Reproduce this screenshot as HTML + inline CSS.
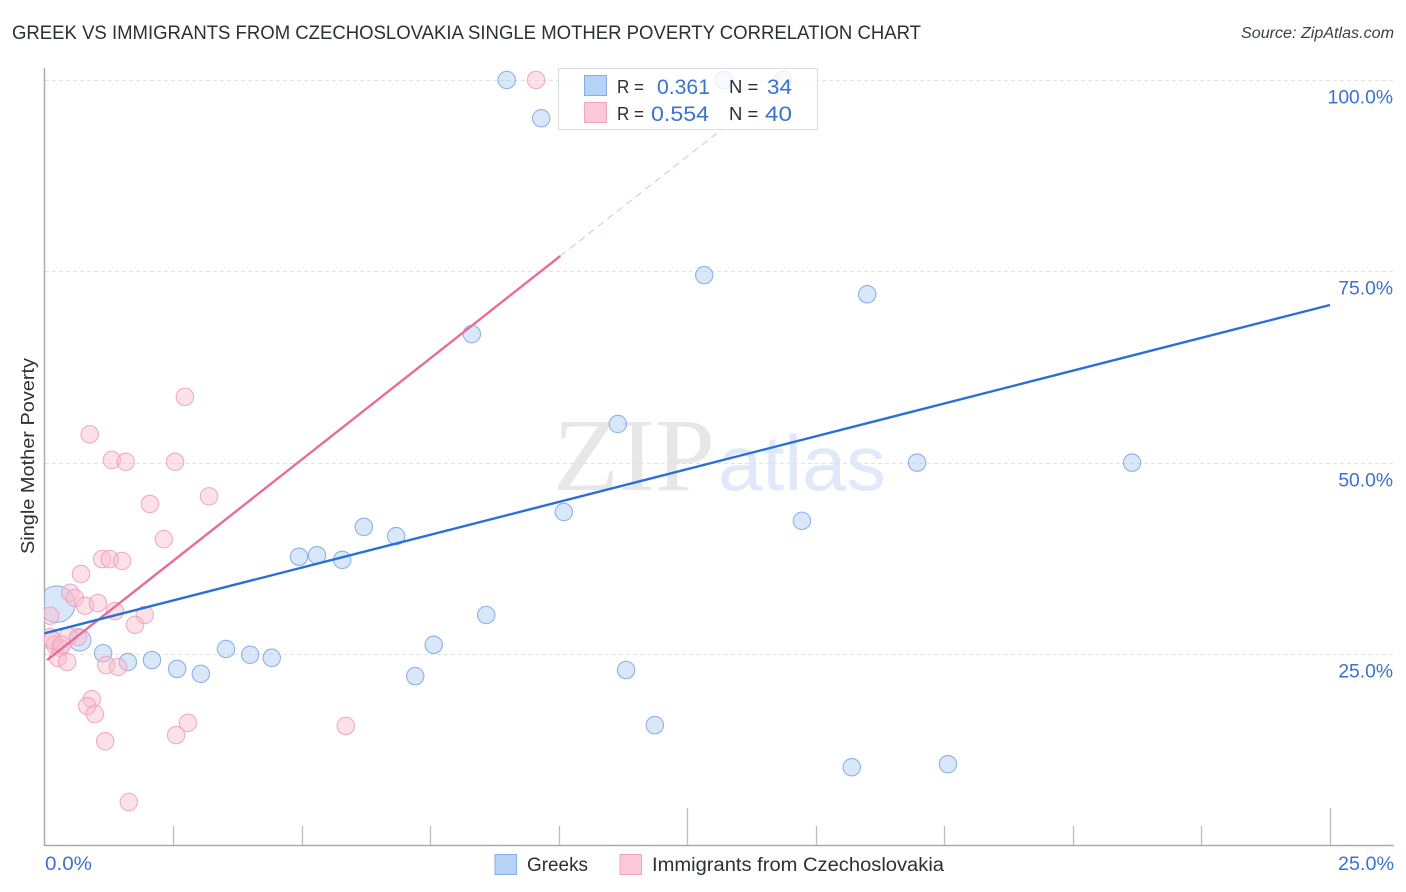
<!DOCTYPE html>
<html>
<head>
<meta charset="utf-8">
<title>Greek vs Immigrants from Czechoslovakia Single Mother Poverty Correlation Chart</title>
<style>
html,body{margin:0;padding:0;background:#fff;}
svg{display:block;font-family:"Liberation Sans",sans-serif;}
</style>
</head>
<body>
<svg id="chart" width="1406" height="892" viewBox="0 0 1406 892" xmlns="http://www.w3.org/2000/svg">
  <defs>
    <clipPath id="plot-clip"><rect x="44" y="60" width="1350" height="785"></rect></clipPath>
  </defs>
  <rect x="0" y="0" width="1406" height="892" fill="#fff"></rect>
  <text x="12" y="39" font-size="19.5" fill="#2c2f36" textLength="909" lengthAdjust="spacingAndGlyphs">GREEK VS IMMIGRANTS FROM CZECHOSLOVAKIA SINGLE MOTHER POVERTY CORRELATION CHART</text>
  <text x="1241" y="38" font-size="15.5" font-style="italic" fill="#3c4048" textLength="153" lengthAdjust="spacingAndGlyphs">Source: ZipAtlas.com</text>
  <text x="553" y="490" font-family="'Liberation Serif',serif" font-size="104" fill="#e7e7e7" textLength="162" lengthAdjust="spacingAndGlyphs">ZIP</text>
  <text x="718" y="490" font-family="'Liberation Sans',sans-serif" font-size="78" fill="#dfe9f9" textLength="168" lengthAdjust="spacingAndGlyphs">atlas</text>
  <g id="grid"></g>
  <g id="axes"></g>
  <g id="pts" clip-path="url(#plot-clip)"></g>
  <g id="trends"></g>
  <g id="ylabels"></g>
  <text transform="translate(34,456) rotate(-90)" font-size="18.5" fill="#2c2f36" text-anchor="middle" textLength="196" lengthAdjust="spacingAndGlyphs">Single Mother Poverty</text>
  <text x="45" y="870" font-size="19" fill="#3b72d0" textLength="47" lengthAdjust="spacingAndGlyphs">0.0%</text>
  <text x="1394" y="870" font-size="19" fill="#3b72d0" text-anchor="end" textLength="56" lengthAdjust="spacingAndGlyphs">25.0%</text>

  <g>
    <rect x="558.5" y="68.5" width="259" height="61" fill="#fff" fill-opacity="0.8" stroke="#dcdcdc" stroke-width="1"></rect>
    <rect x="584.5" y="75.5" width="22" height="20" fill="#b6d3f7" stroke="#85ade6" stroke-width="1"></rect>
    <rect x="584.5" y="102.5" width="22" height="20" fill="#fdc8d9" stroke="#f0a5bf" stroke-width="1"></rect>
    <text x="617" y="93" font-size="18.5" fill="#2c2f36" textLength="27" lengthAdjust="spacingAndGlyphs">R =</text>
    <text x="657" y="94" font-size="21.5" fill="#3b72d0" textLength="53" lengthAdjust="spacingAndGlyphs">0.361</text>
    <text x="729" y="93" font-size="18.5" fill="#2c2f36">N =</text>
    <text x="767" y="94" font-size="21.5" fill="#3b72d0" textLength="25" lengthAdjust="spacingAndGlyphs">34</text>
    <text x="617" y="120" font-size="18.5" fill="#2c2f36" textLength="27" lengthAdjust="spacingAndGlyphs">R =</text>
    <text x="651" y="121" font-size="21.5" fill="#3b72d0" textLength="58" lengthAdjust="spacingAndGlyphs">0.554</text>
    <text x="729" y="120" font-size="18.5" fill="#2c2f36">N =</text>
    <text x="765" y="121" font-size="21.5" fill="#3b72d0" textLength="27" lengthAdjust="spacingAndGlyphs">40</text>
  </g>

  <g>
    <rect x="495" y="854.5" width="21.5" height="20" fill="#b6d3f7" stroke="#85ade6" stroke-width="1"></rect>
    <text x="527" y="871" font-size="19" fill="#2c2f36" textLength="61" lengthAdjust="spacingAndGlyphs">Greeks</text>
    <rect x="620" y="854.5" width="21.5" height="20" fill="#fdc8d9" stroke="#f0a5bf" stroke-width="1"></rect>
    <text x="652" y="871" font-size="19" fill="#2c2f36" textLength="292" lengthAdjust="spacingAndGlyphs">Immigrants from Czechoslovakia</text>
  </g>
</svg>
<script>
const yTicks = [25, 50, 75, 100];
const yTickLabels = ["25.0%", "50.0%", "75.0%", "100.0%"];
const xTicks = [0, 2.5, 5, 7.5, 10, 12.5, 15, 17.5, 20, 22.5, 25];
const xMajorTicks = [0, 12.5, 25];

const greekX = [8.99,13.21,14.36,9.66,12.83,16.0,8.31,11.15,16.97,21.15,10.10,14.73,6.21,6.84,4.95,5.30,5.79,8.59,0.24,0.69,7.57,3.53,4.00,4.42,1.14,1.62,2.09,2.58,3.04,7.21,11.31,11.87,15.70,17.57];
const greekY = [100,100,100,95.0,74.5,72.0,66.8,55.05,50,50,43.55,42.4,41.6,40.4,37.7,37.9,37.3,30.1,31.5,26.8,26.2,25.65,24.9,24.5,25.1,23.95,24.2,23.05,22.4,22.1,22.9,15.7,10.2,10.6];
const greekWeight = [1,1,1,1,1,1,1,1,1,1,1,1,1,1,1,1,1,1,2.1,1.25,1,1,1,1,1,1,1,1,1,1,1,1,1,1];

const immigrantX = [9.56,2.73,0.88,1.31,1.58,2.54,3.20,2.05,2.32,1.12,1.27,1.51,0.71,0.50,0.59,0.79,1.04,1.37,1.95,1.76,0.11,0.11,0.65,0.46,0.20,0.30,0.26,0.44,1.20,1.43,0.92,0.83,0.98,1.18,2.56,2.79,5.86,1.64,0.15,0.34];
const immigrantY = [100,58.6,53.7,50.35,50.1,50.1,45.6,44.6,40.0,37.4,37.4,37.15,35.45,33.0,32.3,31.3,31.65,30.6,30.1,28.8,30.0,27.2,27.2,27.35,26.2,25.8,24.5,23.95,23.55,23.3,19.1,18.2,17.15,13.6,14.4,16.0,15.6,5.65,26.8,26.2];

const greekTrendX = [0, 25];
const greekTrendY = [27.7, 70.6];
const immigrantTrendX = [0.05, 10.03];
const immigrantTrendY = [24.2, 77.0];
const immigrantDashX = [10.03, 13.6];
const immigrantDashY = [77.0, 95.8];

const NS = "http://www.w3.org/2000/svg";
function xScale(v) { return 44.5 + v * (1330 - 44.5) / 25; }
function yScale(v) { return 845.3 - v * (845.3 - 80) / 100; }
function make(tag, parent, attrs) {
  const el = document.createElementNS(NS, tag);
  for (const k in attrs) el.setAttribute(k, attrs[k]);
  parent.appendChild(el);
  return el;
}

const grid = document.getElementById("grid");
const axes = document.getElementById("axes");
const ylabels = document.getElementById("ylabels");
const pts = document.getElementById("pts");
const trends = document.getElementById("trends");

yTicks.forEach(function (t, i) {
  const y = Math.round(yScale(t)) + 0.5;
  const g = make("line", grid, {x1: 45, x2: 1394, y1: y, y2: y, stroke: "#e2e2e2", "stroke-width": 1, "stroke-dasharray": "4 3"});
  
  
  const label = make("text", ylabels, {x: 1393, y: y + 23, "font-size": 19.3, fill: "#3b72d0", "text-anchor": "end"});
  
  
  label.textContent = yTickLabels[i];
});

const yAxisLine = make("line", axes, {x1: 44.5, x2: 44.5, y1: 68, y2: 846, stroke: "#aaaaaa", "stroke-width": 1.5});


const xAxisLine = make("line", axes, {x1: 44, x2: 1394, y1: 845.5, y2: 845.5, stroke: "#aaaaaa", "stroke-width": 1.5});


xTicks.forEach(function (t) {
  if (t === 0) return;
  const x = Math.round(xScale(t)) + 0.5;
  const top = xMajorTicks.indexOf(t) >= 0 ? 808 : 826;
  const tick = make("line", axes, {x1: x, x2: x, y1: top, y2: 845, stroke: "#bdbdbd", "stroke-width": 1.3});
  
  
});

greekX.forEach(function (v, i) {
  const c = make("circle", pts, {cx: xScale(v), cy: yScale(greekY[i]), r: 8.7 * greekWeight[i], fill: "#a9c9f2", "fill-opacity": 0.45, stroke: "#7ea6e2", "stroke-opacity": 0.85, "stroke-width": 1.1});
  
  
});
immigrantX.forEach(function (v, i) {
  const c = make("circle", pts, {cx: xScale(v), cy: yScale(immigrantY[i]), r: 8.7, fill: "#f9bccf", "fill-opacity": 0.45, stroke: "#ee9fb9", "stroke-opacity": 0.85, "stroke-width": 1.1});
  
  
});

const dash = make("line", trends, {x1: xScale(immigrantDashX[0]), y1: yScale(immigrantDashY[0]), x2: xScale(immigrantDashX[1]), y2: yScale(immigrantDashY[1]), stroke: "#ecb9cb", "stroke-width": 1, "stroke-dasharray": "7 5"});


const pinkLine = make("line", trends, {x1: xScale(immigrantTrendX[0]), y1: yScale(immigrantTrendY[0]), x2: xScale(immigrantTrendX[1]), y2: yScale(immigrantTrendY[1]), stroke: "#ea6b9a", "stroke-width": 2.4});


const blueLine = make("line", trends, {x1: xScale(greekTrendX[0]), y1: yScale(greekTrendY[0]), x2: xScale(greekTrendX[1]), y2: yScale(greekTrendY[1]), stroke: "#2870d8", "stroke-width": 2.4});


</script>
</body>
</html>
